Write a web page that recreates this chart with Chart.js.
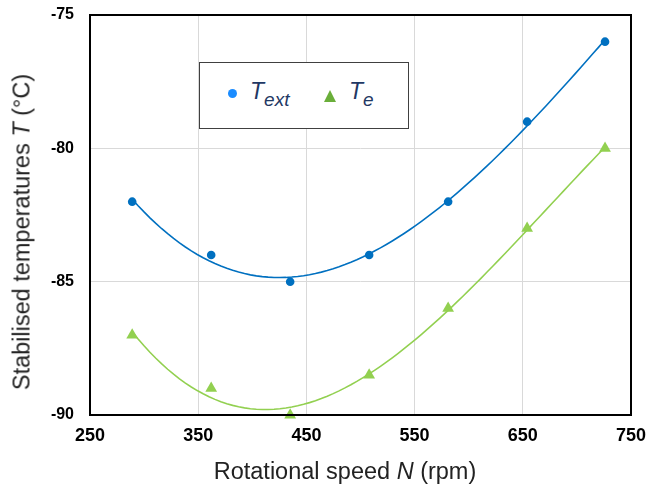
<!DOCTYPE html>
<html>
<head>
<meta charset="utf-8">
<script src="https://cdn.jsdelivr.net/npm/chart.js@4.4.0/dist/chart.umd.min.js"></script>
<style>
  body { margin: 0; background: #fff; }
  #wrap { position: relative; width: 647px; height: 491px; font-family: Arial, "Liberation Sans", sans-serif; }
  #legend { position: absolute; left: 199px; top: 62px; width: 208px; height: 65px; border: 1px solid #404040; background: #fff; color: #1f3864; }
  .item { position: absolute; top: 17px; font-size: 23px; line-height: 23px; font-style: italic; white-space: nowrap; }
  .item sub { font-size: 19px; vertical-align: -7px; line-height: 0; }
  .dot { position: absolute; left: 28px; top: 26px; width: 9px; height: 9px; border-radius: 50%; background: #1a8cff; }
  .tri { position: absolute; left: 124px; top: 27px; width: 0; height: 0; border-left: 6px solid transparent; border-right: 6px solid transparent; border-bottom: 12px solid #6aae3a; }
  #xtitle { position: absolute; left: 0; width: 690px; top: 458px; text-align: center; font-size: 23.5px; color: #222; white-space: nowrap; }
  #ytitle { position: absolute; left: 22px; top: 232px; transform: translate(-50%, -50%) rotate(-90deg); white-space: nowrap; font-size: 23.5px; color: #222; }
</style>
</head>
<body>
<div id="wrap">
  <canvas id="myChart"></canvas>
  <div id="legend">
    <div class="dot"></div><div class="item" style="left:50px">T<sub>ext</sub></div>
    <div class="tri"></div><div class="item" style="left:149px">T<sub>e</sub></div>
  </div>
  <div id="xtitle">Rotational speed <i>N</i> (rpm)</div>
  <div id="ytitle">Stabilised temperatures <i>T</i> (°C)</div>
</div>
<script>
'use strict';

// values
var speeds = [289, 362, 435, 508, 581, 654, 726];
var tExt = [-82, -84, -85, -84, -82, -79, -76];
var tE = [-87, -89, -90, -88.5, -86, -83, -80];
var xTicks = [250, 350, 450, 550, 650, 750];
var yTicks = [-90, -85, -80, -75];
var fitOrder = 3;

// polynomial trendline, least squares like the spreadsheet does
function polyFit(xs, ys, n) {
    var x0 = xs[0], sc = 100;
    var m = [];
    for (var r = 0; r <= n; r++) {
        m.push([]);
        for (var c = 0; c <= n + 1; c++) m[r].push(0);
    }
    for (var i = 0; i < xs.length; i++) {
        var u = (xs[i] - x0) / sc;
        for (var r1 = 0; r1 <= n; r1++) {
            for (var c1 = 0; c1 <= n; c1++) m[r1][c1] += Math.pow(u, r1 + c1);
            m[r1][n + 1] += Math.pow(u, r1) * ys[i];
        }
    }
    for (var c2 = 0; c2 <= n; c2++) {
        for (var r2 = c2 + 1; r2 <= n; r2++) {
            var f = m[r2][c2] / m[c2][c2];
            for (var j = c2; j <= n + 1; j++) m[r2][j] -= f * m[c2][j];
        }
    }
    var a = [];
    for (var k = 0; k <= n; k++) a.push(0);
    for (var r3 = n; r3 >= 0; r3--) {
        var v = m[r3][n + 1];
        for (var j2 = r3 + 1; j2 <= n; j2++) v -= m[r3][j2] * a[j2];
        a[r3] = v / m[r3][r3];
    }
    return function (x) {
        var u = (x - x0) / sc, y = 0;
        for (var p = n; p >= 0; p--) y = y * u + a[p];
        return y;
    };
}

function trend(xs, ys) {
    var fn = polyFit(xs, ys, fitOrder);
    var pts = [];
    var x0 = xs[0], x1 = xs[xs.length - 1];
    for (var i = 0; i <= 80; i++) {
        var x = x0 + (x1 - x0) * i / 80;
        pts.push({ x: x, y: fn(x) });
    }
    return pts;
}

function toPts(xs, ys) {
    return xs.map(function (x, i) { return { x: x, y: ys[i] }; });
}

var boxPlugin = {
    id: 'box',
    afterDraw: function (chart) {
        var ctx = chart.ctx, a = chart.chartArea;
        ctx.save();
        ctx.strokeStyle = '#000';
        ctx.lineWidth = 2;
        ctx.strokeRect(a.left, a.top, a.right - a.left, a.bottom - a.top);
        ctx.restore();
    }
};

var fontFam = 'Arial, "Liberation Sans", sans-serif';

var ctx = document.getElementById('myChart').getContext('2d');
var chart = new Chart(ctx, {
    type: 'scatter',
    data: {
        datasets: [
            { label: 'Text', data: toPts(speeds, tExt), clip: false, pointStyle: 'circle', pointRadius: 4.3, backgroundColor: '#0070c0', borderColor: '#0070c0', borderWidth: 0 },
            { label: 'Te', data: toPts(speeds, tE), clip: false, pointStyle: 'triangle', pointRadius: 6.8, backgroundColor: '#92d050', borderColor: '#92d050', borderWidth: 0 },
            { label: 'fit ext', type: 'line', data: trend(speeds, tExt), borderColor: '#0070c0', borderWidth: 1.6, pointRadius: 0, fill: false },
            { label: 'fit e', type: 'line', data: trend(speeds, tE), borderColor: '#92d050', borderWidth: 1.6, pointRadius: 0, fill: false }
        ]
    },
    options: {
        responsive: true,
        maintainAspectRatio: false,
        animation: false,
        layout: { padding: { left: 0, top: 15, right: 16, bottom: 0 } },
        plugins: { legend: { display: false }, tooltip: { enabled: false } },
        scales: {
            x: {
                type: 'linear', min: 250, max: 750,
                afterBuildTicks: function (s) { s.ticks = xTicks.map(function (v) { return { value: v }; }); },
                afterFit: function (s) { s.height = 76; s.paddingLeft = 0; s.paddingRight = 0; },
                grid: { color: '#d9d9d9', drawTicks: false },
                border: { display: false },
                ticks: { font: { family: fontFam, size: 18, weight: 'bold' }, color: '#000', padding: 10, maxRotation: 0 }
            },
            y: {
                min: -90, max: -75,
                afterBuildTicks: function (s) { s.ticks = yTicks.map(function (v) { return { value: v }; }); },
                afterFit: function (s) { s.width = 90; s.paddingTop = 0; s.paddingBottom = 0; },
                grid: { color: '#d9d9d9', drawTicks: false },
                border: { display: false },
                ticks: { font: { family: fontFam, size: 16, weight: 'bold' }, color: '#000', padding: 16 }
            }
        }
    },
    plugins: [boxPlugin]
});
</script>
</body>
</html>
